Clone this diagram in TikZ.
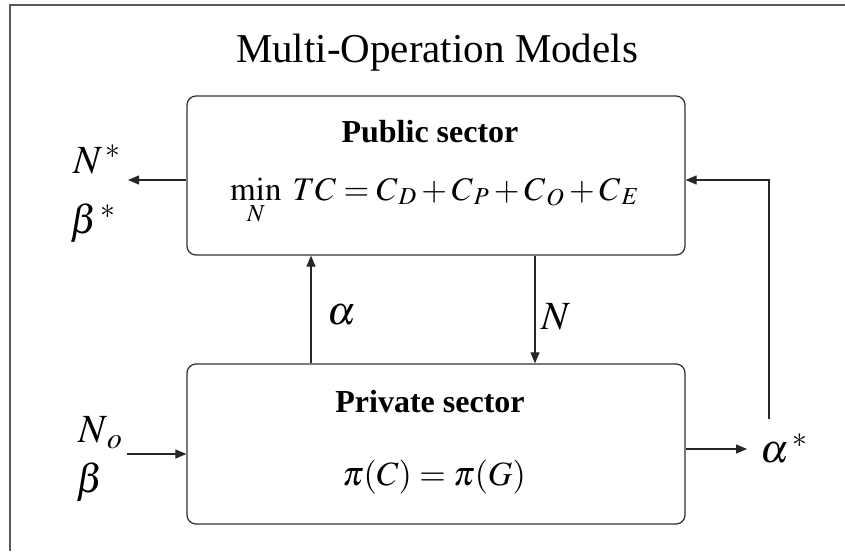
\documentclass[tikz,border=0pt]{standalone}
\usepackage{mathptmx}
\usepackage{fontspec}
\setmainfont{Liberation Serif}
\usetikzlibrary{arrows.meta}
\tikzset{
  box/.style={draw=black!80, line width=1.3pt, rounded corners=9pt, fill=white, inner sep=0pt},
  arr/.style={draw=black!85, line width=1.2pt, -{Triangle[length=11pt,width=9pt]}},
  frameline/.style={draw=black!65, line width=1.6pt},
  lbl/.style={inner sep=0pt, anchor=base west},
  ctext/.style={inner sep=0pt, anchor=base},
}
\newcommand{\fsz}[1]{\fontsize{#1}{#1}\selectfont}
\begin{document}
\begin{tikzpicture}[x=1pt,y=-1pt]
\useasboundingbox (0,0) rectangle (845,551);
\fill[white] (0,0) rectangle (845,551);
\draw[frameline] (10,551) -- (10,5) -- (845,5);
% title
\node[ctext] (title) at (437,63) {\fsz{41}Multi-Operation Models};
% boxes
\node[box, minimum width=498pt, minimum height=159pt] (pub) at (436,175.5) {};
\node[box, minimum width=498pt, minimum height=160pt] (priv) at (436,444) {};
% box texts
\node[ctext] (pubt) at (430,142.5) {\fsz{32}\bfseries Public sector};
\node[ctext] (pube) at (434.5,200) {\fsz{33}$\displaystyle\min_{N}\; TC = C_{\,D} + C_{\,P} + C_{\,O} + C_{\,E}$};
\node[ctext] (privt) at (430,412.5) {\fsz{32}\bfseries Private sector};
\node[ctext] (prive) at (434,485) {\fsz{34}$\pi(C) = \pi(G)$};
% labels
\node[lbl] (nstar) at (73,173) {\fsz{40}$N^{\,*}$};
\node[lbl] (bstar) at (70,233) {\fsz{40}$\beta^{\,*}$};
\node[lbl] (alab) at (327,324) {\fsz{40}$\alpha$};
\node[lbl] (nlab) at (541,329) {\fsz{40}$N$};
\node[lbl] (astar) at (760,462) {\fsz{40}$\alpha^{\,*}$};
\node[lbl] (nzero) at (78,442) {\fsz{40}$N_{\,o}$};
\node[lbl] (bzero) at (76,492) {\fsz{40}$\beta$};
% connector end points
\coordinate (outL) at (128,180);
\coordinate (inL) at (127,454);
\coordinate (upX) at (311,300);
\coordinate (dnX) at (535,300);
\coordinate (fbBot) at (769,419);
\coordinate (fbTop) at (769,180);
\coordinate (outR) at (747,449);
% connectors
\draw[arr] (pub.west |- outL) -- (outL);
\draw[arr] (inL) -- (priv.west |- inL);
\draw[arr] (priv.north -| upX) -- (pub.south -| upX);
\draw[arr] (pub.south -| dnX) -- (priv.north -| dnX);
\draw[arr] (fbBot) -- (fbTop) -- (pub.east |- fbTop);
\draw[arr] (priv.east |- outR) -- (outR);
\end{tikzpicture}
\end{document}
